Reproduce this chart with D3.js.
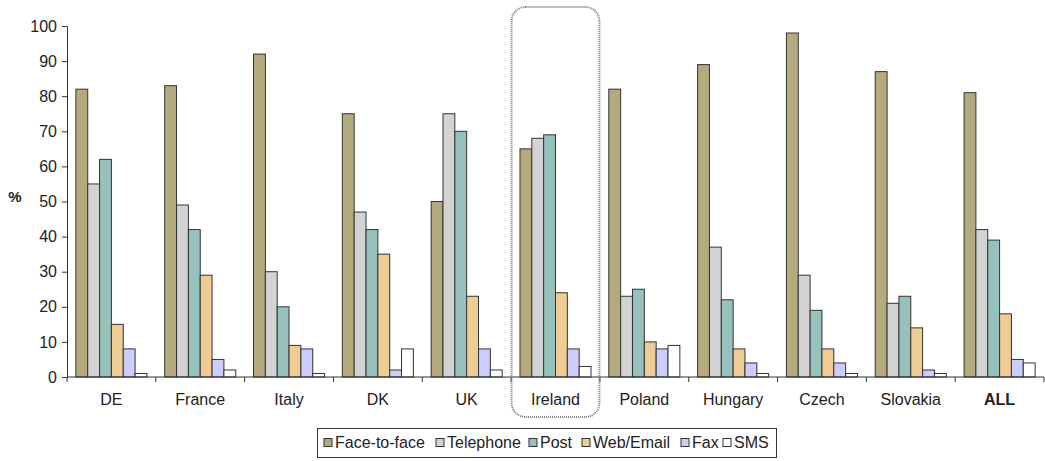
<!DOCTYPE html>
<html>
<head>
<meta charset="utf-8">
<script src="https://cdn.jsdelivr.net/npm/d3@7"></script>
<style>
  html, body { margin: 0; padding: 0; background: #fff; }
  svg { display: block; font-family: "Liberation Sans", Arial, sans-serif; }
</style>
</head>
<body>
<svg id="chart" width="1045" height="461"></svg>
<script>
// Contact channels used, by country (percent of respondents)
const countries = ["DE", "France", "Italy", "DK", "UK", "Ireland", "Poland", "Hungary", "Czech", "Slovakia", "ALL"];
const channels = ["Face-to-face", "Telephone", "Post", "Web/Email", "Fax", "SMS"];
const faceToFace = [82, 83, 92, 75, 50, 65, 82, 89, 98, 87, 81];
const telephone  = [55, 49, 30, 47, 75, 68, 23, 37, 29, 21, 42];
const post       = [62, 42, 20, 42, 70, 69, 25, 22, 19, 23, 39];
const webEmail   = [15, 29,  9, 35, 23, 24, 10,  8,  8, 14, 18];
const fax        = [ 8,  5,  8,  2,  8,  8,  8,  4,  4,  2,  5];
const sms        = [ 1,  2,  1,  8,  2,  3,  9,  1,  1,  1,  4];
const yTicks = [0, 10, 20, 30, 40, 50, 60, 70, 80, 90, 100];
const highlighted = "Ireland";

const seriesValues = [faceToFace, telephone, post, webEmail, fax, sms];
const colors = ["#b5aa7e", "#d3d3d3", "#97c1bd", "#f0cc95", "#ccccff", "#ffffff"];

const svg = d3.select("#chart");
const plotLeft = 67, plotRight = 1044, plotTop = 26, plotBottom = 377;
const fontSize = 16;

const x = d3.scaleBand().domain(countries).range([plotLeft, plotRight]).paddingInner(0).paddingOuter(0);
const xInner = d3.scaleBand().domain(channels).range([0, x.bandwidth()]).paddingInner(0).paddingOuter(0.75);
const y = d3.scaleLinear().domain([0, 100]).range([plotBottom, plotTop]);

// Bars
const rows = [];
countries.forEach((c, i) => {
  channels.forEach((ch, j) => rows.push({ country: c, channel: ch, value: seriesValues[j][i], color: colors[j] }));
});

svg.append("g").selectAll("rect").data(rows).join("rect")
  .attr("x", d => x(d.country) + xInner(d.channel))
  .attr("y", d => y(d.value))
  .attr("width", xInner.bandwidth())
  .attr("height", d => y(0) - y(d.value))
  .attr("fill", d => d.color)
  .attr("stroke", "#333")
  .attr("stroke-width", 1);

// Y axis
const yAxis = d3.axisLeft(y).tickValues(yTicks).tickSize(5).tickSizeOuter(0).tickPadding(5);
const gy = svg.append("g").attr("transform", `translate(${plotLeft},0)`).call(yAxis);
gy.select(".domain").attr("stroke", "#333");
gy.selectAll(".tick line").attr("stroke", "#333");
gy.selectAll(".tick text").attr("font-size", fontSize).attr("fill", "#222")
  .attr("font-family", "'Liberation Sans', Arial, sans-serif");

// X axis with ticks on category boundaries
const gx = svg.append("g").attr("transform", `translate(0,${plotBottom})`);
gx.append("line").attr("x1", plotLeft).attr("x2", plotRight).attr("y1", 0).attr("y2", 0).attr("stroke", "#333");
const boundaries = countries.map(c => x(c)).concat([x(countries[countries.length - 1]) + x.bandwidth()]);
gx.selectAll("line.b").data(boundaries).join("line").attr("class", "b")
  .attr("x1", d => d).attr("x2", d => d).attr("y1", 0).attr("y2", 5).attr("stroke", "#333");
gx.selectAll("text").data(countries).join("text")
  .attr("x", d => x(d) + x.bandwidth() / 2)
  .attr("y", 28)
  .attr("text-anchor", "middle")
  .attr("font-size", fontSize)
  .attr("fill", "#222")
  .attr("font-weight", d => d === "ALL" ? "bold" : "normal")
  .text(d => d);

// Axis title
svg.append("text").attr("x", 15).attr("y", 202).attr("text-anchor", "middle")
  .attr("font-size", 15).attr("font-weight", "bold").attr("fill", "#222").text("%");

// Highlight box around one country
svg.append("rect")
  .attr("x", x(highlighted) + 0.5)
  .attr("y", 7)
  .attr("width", x.bandwidth() - 1)
  .attr("height", 410)
  .attr("rx", 14).attr("ry", 14)
  .attr("fill", "none")
  .attr("stroke", "#7a7a7a")
  .attr("stroke-width", 2)
  .attr("stroke-dasharray", "1,1");

// Legend
const legend = svg.append("g");
legend.append("rect").attr("x", 317.5).attr("y", 428.5).attr("width", 459).attr("height", 29)
  .attr("fill", "#fff").attr("stroke", "#333");
const legendX = [324, 436, 529, 582, 681, 723];
channels.forEach((ch, j) => {
  const g = legend.append("g").attr("transform", `translate(${legendX[j]},438.5)`);
  g.append("rect").attr("width", 8).attr("height", 8).attr("fill", colors[j]).attr("stroke", "#333");
  g.append("text").attr("x", 11).attr("y", 9.5).attr("font-size", fontSize).attr("fill", "#222").text(ch);
});
</script>
</body>
</html>
